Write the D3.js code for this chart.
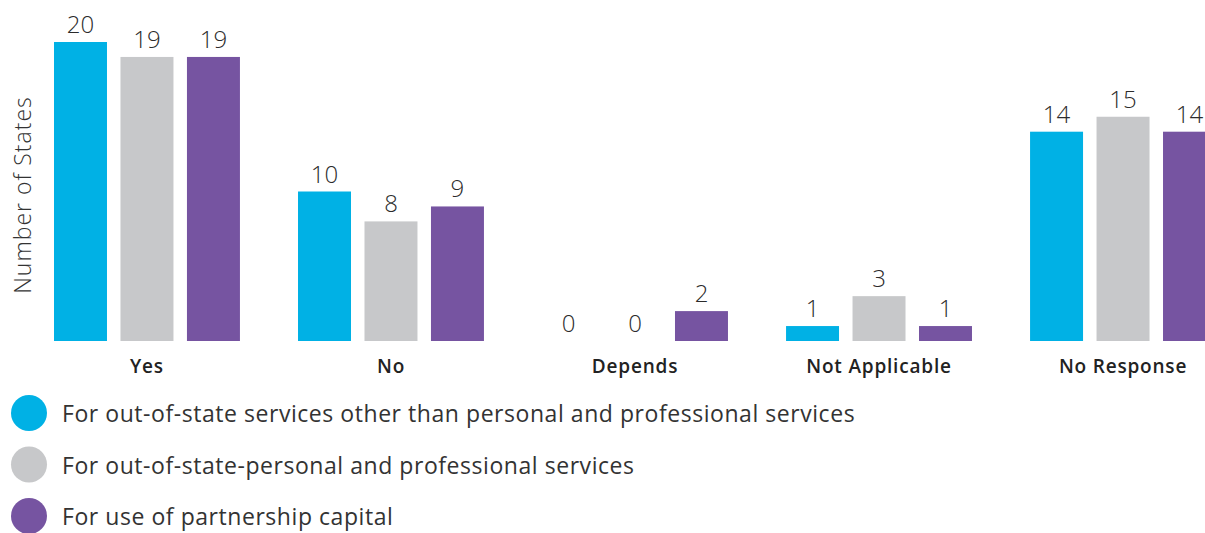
<!DOCTYPE html>
<html>
<head>
<meta charset="utf-8">
<script src="https://cdn.jsdelivr.net/npm/d3@7"></script>
<style>
  body { margin: 0; background: #fff; }
  svg { display: block; }
</style>
</head>
<body>
<div id="chart"></div>
<script>
const w = 1205;
const h = 533;

// data
const categories = ["Yes", "No", "Depends", "Not Applicable", "No Response"];
const seriesNames = [
  "For out-of-state services other than personal and professional services",
  "For out-of-state-personal and professional services",
  "For use of partnership capital"
];
const otherServices = [20, 10, 0, 1, 14];
const personalServices = [19, 8, 0, 3, 15];
const partnershipCapital = [19, 9, 2, 1, 14];
const colors = ["#00b1e5", "#c7c8ca", "#7654a1"];

const series = [otherServices, personalServices, partnershipCapital];

const rows = [];
categories.forEach((c, i) => {
  series.forEach((s, j) => {
    rows.push({ cat: c, key: j, value: s[i] });
  });
});

const svg = d3
  .select("#chart")
  .append("svg")
  .attr("width", w)
  .attr("height", h);

const baseY = 341;
const font = "'Open Sans', sans-serif";

const x0 = d3.scaleBand()
  .domain(categories)
  .range([54, 1216])
  .paddingInner(0.238)
  .paddingOuter(0);

const x1 = d3.scaleBand()
  .domain([0, 1, 2])
  .range([0, x0.bandwidth()])
  .paddingInner(0.203)
  .paddingOuter(0);

const y = d3.scaleLinear()
  .domain([0, 20])
  .range([baseY, 42]);

// bars
svg.append("g")
  .selectAll("rect")
  .data(rows)
  .enter()
  .append("rect")
  .attr("x", (d) => x0(d.cat) + x1(d.key))
  .attr("y", (d) => y(d.value))
  .attr("width", x1.bandwidth())
  .attr("height", (d) => baseY - y(d.value))
  .style("fill", (d) => colors[d.key]);

// value labels
svg.append("g")
  .selectAll("text")
  .data(rows)
  .enter()
  .append("text")
  .text((d) => d.value)
  .attr("text-anchor", "middle")
  .attr("x", (d) => x0(d.cat) + x1(d.key) + x1.bandwidth() / 2)
  .attr("y", (d) => y(d.value) - 9)
  .attr("font-family", font)
  .attr("font-weight", 300)
  .attr("font-size", "24px")
  .attr("fill", "#2b2b2b");

// category axis
const xAxis = svg.append("g")
  .attr("transform", `translate(0,${baseY})`)
  .call(d3.axisBottom(x0).tickSize(0).tickPadding(0));
xAxis.select(".domain").remove();
xAxis.selectAll("text")
  .attr("dy", null)
  .attr("y", 32)
  .attr("font-family", font)
  .attr("font-weight", 600)
  .attr("font-size", "19px")
  .attr("letter-spacing", "0.8px")
  .attr("fill", "#222");

// y title
svg.append("text")
  .text("Number of States")
  .attr("transform", "translate(31,195) rotate(-90)")
  .attr("text-anchor", "middle")
  .attr("font-family", font)
  .attr("font-weight", 300)
  .attr("font-size", "23px")
  .attr("letter-spacing", "1px")
  .attr("fill", "#333");

// legend
const legend = svg.append("g")
  .selectAll("g")
  .data(seriesNames)
  .enter()
  .append("g")
  .attr("transform", (d, i) => `translate(29,${413 + i * 51.5})`);

legend.append("circle")
  .attr("r", 18)
  .style("fill", (d, i) => colors[i]);

legend.append("text")
  .text((d) => d)
  .attr("x", 33)
  .attr("y", 9)
  .attr("font-family", font)
  .attr("font-weight", 400)
  .attr("font-size", "23px")
  .attr("letter-spacing", "0.55px")
  .attr("fill", "#333");
</script>
</body>
</html>
